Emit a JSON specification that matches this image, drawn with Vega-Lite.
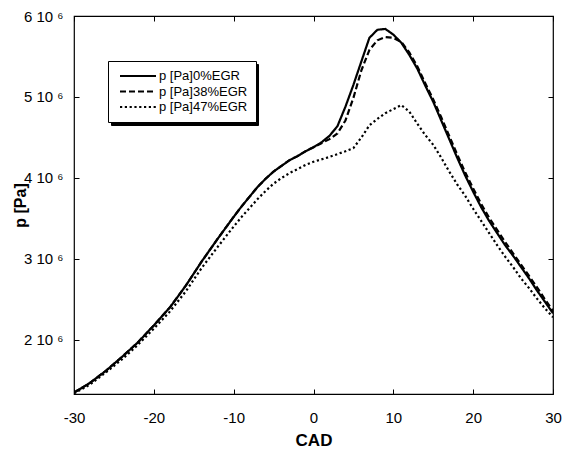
{
  "$schema": "https://vega.github.io/schema/vega-lite/v6.json",
  "width": 479,
  "height": 378,
  "autosize": {"type": "none"},
  "padding": {"left": 74, "top": 16, "right": 11, "bottom": 59},
  "background": "white",
  "config": {
    "font": "Liberation Sans",
    "view": {"stroke": "black", "strokeWidth": 1.2},
    "axis": {"grid": false, "domainColor": "black", "tickColor": "black", "labelColor": "black", "titleColor": "black", "labelFont": "Liberation Sans", "titleFont": "Liberation Sans", "labelFlush": false}
  },
  "datasets": {
    "curves": [
      {"CAD": -30, "p": 1350000, "s": "p [Pa]0%EGR"}, {"CAD": -28, "p": 1470000, "s": "p [Pa]0%EGR"}, {"CAD": -26, "p": 1620000, "s": "p [Pa]0%EGR"}, {"CAD": -24, "p": 1790000, "s": "p [Pa]0%EGR"}, {"CAD": -22, "p": 1970000, "s": "p [Pa]0%EGR"}, {"CAD": -20, "p": 2180000, "s": "p [Pa]0%EGR"}, {"CAD": -18, "p": 2400000, "s": "p [Pa]0%EGR"}, {"CAD": -16, "p": 2670000, "s": "p [Pa]0%EGR"}, {"CAD": -14, "p": 2970000, "s": "p [Pa]0%EGR"}, {"CAD": -12, "p": 3250000, "s": "p [Pa]0%EGR"}, {"CAD": -10, "p": 3520000, "s": "p [Pa]0%EGR"}, {"CAD": -9, "p": 3650000, "s": "p [Pa]0%EGR"}, {"CAD": -8, "p": 3770000, "s": "p [Pa]0%EGR"}, {"CAD": -7, "p": 3890000, "s": "p [Pa]0%EGR"}, {"CAD": -6, "p": 3990000, "s": "p [Pa]0%EGR"}, {"CAD": -5, "p": 4080000, "s": "p [Pa]0%EGR"}, {"CAD": -4, "p": 4150000, "s": "p [Pa]0%EGR"}, {"CAD": -3, "p": 4220000, "s": "p [Pa]0%EGR"}, {"CAD": -2, "p": 4270000, "s": "p [Pa]0%EGR"}, {"CAD": -1, "p": 4330000, "s": "p [Pa]0%EGR"}, {"CAD": 0, "p": 4380000, "s": "p [Pa]0%EGR"}, {"CAD": 1, "p": 4440000, "s": "p [Pa]0%EGR"}, {"CAD": 2, "p": 4520000, "s": "p [Pa]0%EGR"}, {"CAD": 3, "p": 4640000, "s": "p [Pa]0%EGR"}, {"CAD": 4, "p": 4880000, "s": "p [Pa]0%EGR"}, {"CAD": 5, "p": 5150000, "s": "p [Pa]0%EGR"}, {"CAD": 6, "p": 5440000, "s": "p [Pa]0%EGR"}, {"CAD": 7, "p": 5730000, "s": "p [Pa]0%EGR"}, {"CAD": 8, "p": 5830000, "s": "p [Pa]0%EGR"}, {"CAD": 9, "p": 5840000, "s": "p [Pa]0%EGR"}, {"CAD": 10, "p": 5770000, "s": "p [Pa]0%EGR"}, {"CAD": 11, "p": 5670000, "s": "p [Pa]0%EGR"}, {"CAD": 12, "p": 5520000, "s": "p [Pa]0%EGR"}, {"CAD": 13, "p": 5350000, "s": "p [Pa]0%EGR"}, {"CAD": 14, "p": 5140000, "s": "p [Pa]0%EGR"}, {"CAD": 15, "p": 4940000, "s": "p [Pa]0%EGR"}, {"CAD": 16, "p": 4710000, "s": "p [Pa]0%EGR"}, {"CAD": 17, "p": 4480000, "s": "p [Pa]0%EGR"}, {"CAD": 18, "p": 4250000, "s": "p [Pa]0%EGR"}, {"CAD": 19, "p": 4030000, "s": "p [Pa]0%EGR"}, {"CAD": 20, "p": 3830000, "s": "p [Pa]0%EGR"}, {"CAD": 21, "p": 3640000, "s": "p [Pa]0%EGR"}, {"CAD": 22, "p": 3470000, "s": "p [Pa]0%EGR"}, {"CAD": 23, "p": 3320000, "s": "p [Pa]0%EGR"}, {"CAD": 24, "p": 3170000, "s": "p [Pa]0%EGR"}, {"CAD": 25, "p": 3040000, "s": "p [Pa]0%EGR"}, {"CAD": 26, "p": 2900000, "s": "p [Pa]0%EGR"}, {"CAD": 27, "p": 2760000, "s": "p [Pa]0%EGR"}, {"CAD": 28, "p": 2610000, "s": "p [Pa]0%EGR"}, {"CAD": 29, "p": 2470000, "s": "p [Pa]0%EGR"}, {"CAD": 30, "p": 2330000, "s": "p [Pa]0%EGR"},
      {"CAD": -30, "p": 1350000, "s": "p [Pa]38%EGR"}, {"CAD": -28, "p": 1470000, "s": "p [Pa]38%EGR"}, {"CAD": -26, "p": 1620000, "s": "p [Pa]38%EGR"}, {"CAD": -24, "p": 1790000, "s": "p [Pa]38%EGR"}, {"CAD": -22, "p": 1970000, "s": "p [Pa]38%EGR"}, {"CAD": -20, "p": 2180000, "s": "p [Pa]38%EGR"}, {"CAD": -18, "p": 2400000, "s": "p [Pa]38%EGR"}, {"CAD": -16, "p": 2670000, "s": "p [Pa]38%EGR"}, {"CAD": -14, "p": 2970000, "s": "p [Pa]38%EGR"}, {"CAD": -12, "p": 3250000, "s": "p [Pa]38%EGR"}, {"CAD": -10, "p": 3520000, "s": "p [Pa]38%EGR"}, {"CAD": -9, "p": 3650000, "s": "p [Pa]38%EGR"}, {"CAD": -8, "p": 3770000, "s": "p [Pa]38%EGR"}, {"CAD": -7, "p": 3890000, "s": "p [Pa]38%EGR"}, {"CAD": -6, "p": 3990000, "s": "p [Pa]38%EGR"}, {"CAD": -5, "p": 4080000, "s": "p [Pa]38%EGR"}, {"CAD": -4, "p": 4150000, "s": "p [Pa]38%EGR"}, {"CAD": -3, "p": 4220000, "s": "p [Pa]38%EGR"}, {"CAD": -2, "p": 4270000, "s": "p [Pa]38%EGR"}, {"CAD": -1, "p": 4330000, "s": "p [Pa]38%EGR"}, {"CAD": 0, "p": 4380000, "s": "p [Pa]38%EGR"}, {"CAD": 1, "p": 4430000, "s": "p [Pa]38%EGR"}, {"CAD": 2, "p": 4480000, "s": "p [Pa]38%EGR"}, {"CAD": 3, "p": 4550000, "s": "p [Pa]38%EGR"}, {"CAD": 4, "p": 4710000, "s": "p [Pa]38%EGR"}, {"CAD": 5, "p": 4990000, "s": "p [Pa]38%EGR"}, {"CAD": 6, "p": 5330000, "s": "p [Pa]38%EGR"}, {"CAD": 7, "p": 5580000, "s": "p [Pa]38%EGR"}, {"CAD": 8, "p": 5700000, "s": "p [Pa]38%EGR"}, {"CAD": 9, "p": 5740000, "s": "p [Pa]38%EGR"}, {"CAD": 10, "p": 5730000, "s": "p [Pa]38%EGR"}, {"CAD": 11, "p": 5680000, "s": "p [Pa]38%EGR"}, {"CAD": 12, "p": 5550000, "s": "p [Pa]38%EGR"}, {"CAD": 13, "p": 5380000, "s": "p [Pa]38%EGR"}, {"CAD": 14, "p": 5170000, "s": "p [Pa]38%EGR"}, {"CAD": 15, "p": 4970000, "s": "p [Pa]38%EGR"}, {"CAD": 16, "p": 4750000, "s": "p [Pa]38%EGR"}, {"CAD": 17, "p": 4520000, "s": "p [Pa]38%EGR"}, {"CAD": 18, "p": 4290000, "s": "p [Pa]38%EGR"}, {"CAD": 19, "p": 4070000, "s": "p [Pa]38%EGR"}, {"CAD": 20, "p": 3870000, "s": "p [Pa]38%EGR"}, {"CAD": 21, "p": 3680000, "s": "p [Pa]38%EGR"}, {"CAD": 22, "p": 3510000, "s": "p [Pa]38%EGR"}, {"CAD": 23, "p": 3360000, "s": "p [Pa]38%EGR"}, {"CAD": 24, "p": 3210000, "s": "p [Pa]38%EGR"}, {"CAD": 25, "p": 3070000, "s": "p [Pa]38%EGR"}, {"CAD": 26, "p": 2930000, "s": "p [Pa]38%EGR"}, {"CAD": 27, "p": 2790000, "s": "p [Pa]38%EGR"}, {"CAD": 28, "p": 2650000, "s": "p [Pa]38%EGR"}, {"CAD": 29, "p": 2500000, "s": "p [Pa]38%EGR"}, {"CAD": 30, "p": 2360000, "s": "p [Pa]38%EGR"},
      {"CAD": -30, "p": 1340000, "s": "p [Pa]47%EGR"}, {"CAD": -28, "p": 1450000, "s": "p [Pa]47%EGR"}, {"CAD": -26, "p": 1600000, "s": "p [Pa]47%EGR"}, {"CAD": -24, "p": 1760000, "s": "p [Pa]47%EGR"}, {"CAD": -22, "p": 1940000, "s": "p [Pa]47%EGR"}, {"CAD": -20, "p": 2140000, "s": "p [Pa]47%EGR"}, {"CAD": -18, "p": 2350000, "s": "p [Pa]47%EGR"}, {"CAD": -16, "p": 2600000, "s": "p [Pa]47%EGR"}, {"CAD": -14, "p": 2890000, "s": "p [Pa]47%EGR"}, {"CAD": -12, "p": 3150000, "s": "p [Pa]47%EGR"}, {"CAD": -10, "p": 3400000, "s": "p [Pa]47%EGR"}, {"CAD": -9, "p": 3520000, "s": "p [Pa]47%EGR"}, {"CAD": -8, "p": 3630000, "s": "p [Pa]47%EGR"}, {"CAD": -7, "p": 3740000, "s": "p [Pa]47%EGR"}, {"CAD": -6, "p": 3840000, "s": "p [Pa]47%EGR"}, {"CAD": -5, "p": 3930000, "s": "p [Pa]47%EGR"}, {"CAD": -4, "p": 4000000, "s": "p [Pa]47%EGR"}, {"CAD": -3, "p": 4060000, "s": "p [Pa]47%EGR"}, {"CAD": -2, "p": 4110000, "s": "p [Pa]47%EGR"}, {"CAD": -1, "p": 4160000, "s": "p [Pa]47%EGR"}, {"CAD": 0, "p": 4200000, "s": "p [Pa]47%EGR"}, {"CAD": 2, "p": 4260000, "s": "p [Pa]47%EGR"}, {"CAD": 4, "p": 4330000, "s": "p [Pa]47%EGR"}, {"CAD": 5, "p": 4370000, "s": "p [Pa]47%EGR"}, {"CAD": 6, "p": 4500000, "s": "p [Pa]47%EGR"}, {"CAD": 7, "p": 4650000, "s": "p [Pa]47%EGR"}, {"CAD": 8, "p": 4730000, "s": "p [Pa]47%EGR"}, {"CAD": 9, "p": 4800000, "s": "p [Pa]47%EGR"}, {"CAD": 10, "p": 4850000, "s": "p [Pa]47%EGR"}, {"CAD": 11, "p": 4900000, "s": "p [Pa]47%EGR"}, {"CAD": 12, "p": 4820000, "s": "p [Pa]47%EGR"}, {"CAD": 13, "p": 4670000, "s": "p [Pa]47%EGR"}, {"CAD": 14, "p": 4530000, "s": "p [Pa]47%EGR"}, {"CAD": 15, "p": 4410000, "s": "p [Pa]47%EGR"}, {"CAD": 16, "p": 4250000, "s": "p [Pa]47%EGR"}, {"CAD": 17, "p": 4080000, "s": "p [Pa]47%EGR"}, {"CAD": 18, "p": 3920000, "s": "p [Pa]47%EGR"}, {"CAD": 19, "p": 3780000, "s": "p [Pa]47%EGR"}, {"CAD": 20, "p": 3620000, "s": "p [Pa]47%EGR"}, {"CAD": 21, "p": 3470000, "s": "p [Pa]47%EGR"}, {"CAD": 22, "p": 3320000, "s": "p [Pa]47%EGR"}, {"CAD": 23, "p": 3170000, "s": "p [Pa]47%EGR"}, {"CAD": 24, "p": 3030000, "s": "p [Pa]47%EGR"}, {"CAD": 25, "p": 2900000, "s": "p [Pa]47%EGR"}, {"CAD": 26, "p": 2760000, "s": "p [Pa]47%EGR"}, {"CAD": 27, "p": 2640000, "s": "p [Pa]47%EGR"}, {"CAD": 28, "p": 2510000, "s": "p [Pa]47%EGR"}, {"CAD": 29, "p": 2390000, "s": "p [Pa]47%EGR"}, {"CAD": 30, "p": 2280000, "s": "p [Pa]47%EGR"}
    ]
  },
  "data": {"name": "curves"},
  "layer": [
    {
      "mark": {"type": "line", "strokeWidth": 2.2, "color": "black", "strokeCap": "butt", "clip": true},
      "encoding": {
        "x": {"field": "CAD", "type": "quantitative", "scale": {"domain": [-30, 30], "nice": false, "zero": false},
          "axis": {"orient": "bottom", "title": "CAD", "values": [-30, -20, -10, 0, 10, 20, 30], "labelExpr": "'' + datum.value", "tickSize": -5, "labelPadding": 21, "labelFontSize": 15, "titleFontSize": 17, "titleFontWeight": "bold", "titlePadding": 7, "domain": false}},
        "y": {"field": "p", "type": "quantitative", "scale": {"domain": [1333000, 6000000], "nice": false, "zero": false},
          "axis": {"orient": "left", "title": "p [Pa]", "values": [2000000, 3000000, 4000000, 5000000, 6000000], "labelExpr": "format(datum.value / 1000000, 'd') + ' 10 ⁶'", "tickSize": -5, "labelPadding": 16, "labelFontSize": 15, "titleFontSize": 16, "titleFontWeight": "bold", "titlePadding": -5, "domain": false}},
        "strokeDash": {"field": "s", "type": "nominal",
          "scale": {"domain": ["p [Pa]0%EGR", "p [Pa]38%EGR", "p [Pa]47%EGR"], "range": [[1, 0], [6, 3], [2.2, 2.6]]},
          "legend": {"title": null, "orient": "none", "legendX": 34, "legendY": 45, "zindex": 5, "symbolType": "M-3,0H3", "symbolSize": 144, "symbolStrokeWidth": 2, "symbolStrokeColor": "black", "labelFontSize": 13, "labelFont": "Liberation Sans", "labelColor": "black", "strokeColor": "black", "fillColor": "white", "padding": 8, "rowPadding": 1.5, "labelOffset": 14, "symbolOffset": 15}}
      }
    },
    {
      "mark": {"type": "line", "opacity": 0},
      "encoding": {
        "x": {"field": "CAD", "type": "quantitative", "axis": {"orient": "top", "title": null, "labels": false, "values": [-30, -20, -10, 0, 10, 20, 30], "tickSize": -5, "domain": false}},
        "y": {"field": "p", "type": "quantitative", "axis": {"orient": "right", "title": null, "labels": false, "values": [2000000, 3000000, 4000000, 5000000, 6000000], "tickSize": -5, "domain": false}},
        "color": {"field": "s", "type": "nominal", "scale": {"range": ["black", "black", "black"]},
          "legend": {"title": null, "orient": "none", "legendX": 37, "legendY": 48, "zindex": 0, "symbolType": "M-3,0H3", "symbolSize": 144, "symbolStrokeWidth": 2, "labelExpr": "''", "labelFontSize": 13, "labelFont": "Liberation Sans", "labelColor": "black", "strokeColor": "black", "fillColor": "black", "padding": 8, "rowPadding": 1.5, "labelOffset": 102, "symbolOffset": 15}}
      }
    }
  ],
  "resolve": {"axis": {"x": "independent", "y": "independent"}}
}
